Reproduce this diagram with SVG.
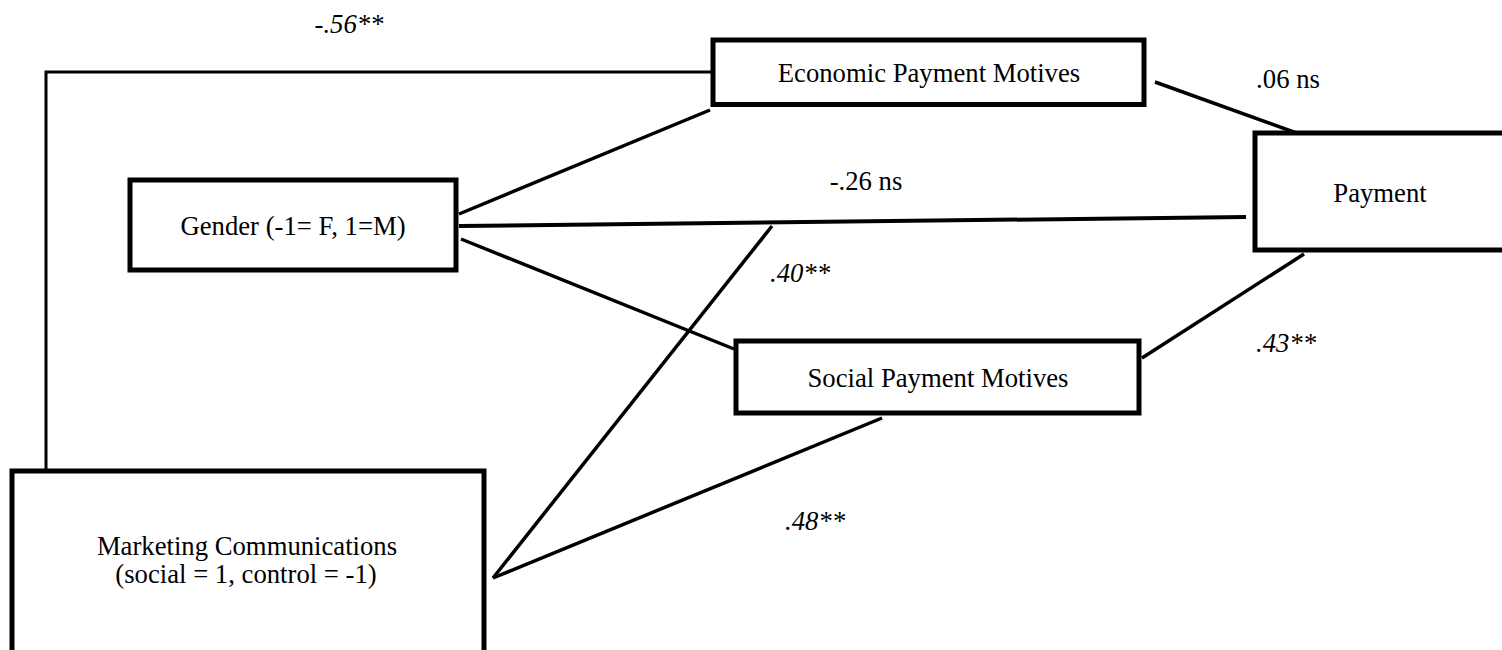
<svg xmlns="http://www.w3.org/2000/svg" width="1502" height="650" viewBox="0 0 1502 650">
<style>
.box{fill:#fff;stroke:#000;stroke-width:5}
.lbl{font-family:'Liberation Serif','Times New Roman','DejaVu Serif',serif;font-size:26.7px;fill:#000;text-anchor:middle}
.it{font-style:italic}
.con line,.con polyline{stroke:#000;stroke-width:3.5;fill:none}
</style>
<rect width="1502" height="650" fill="#fff"/>
<g class="con" id="connectors">
<polyline points="711,72 46,72 46,471" style="stroke-width:3"/>
<line x1="459" y1="214" x2="710" y2="110"/>
<line x1="459" y1="226" x2="1246" y2="217" style="stroke-width:4"/>
<line x1="461" y1="239" x2="734" y2="349"/>
<line x1="1155" y1="82" x2="1302" y2="135"/>
<line x1="1142" y1="358" x2="1304" y2="254"/>
<line x1="493" y1="578" x2="772" y2="226"/>
<line x1="493" y1="578" x2="882" y2="418"/>
</g>
<g id="economic"><rect class="box" x="713" y="40" width="431" height="64.5"/><text class="lbl" x="929" y="82">Economic Payment Motives</text></g>
<g id="gender"><rect class="box" x="130" y="180" width="326" height="90"/><text class="lbl" x="293" y="235">Gender (-1= F, 1=M)</text></g>
<g id="payment"><rect class="box" x="1255" y="133" width="250" height="117"/><text class="lbl" x="1380" y="202">Payment</text></g>
<g id="social"><rect class="box" x="736" y="341" width="403" height="72"/><text class="lbl" x="938" y="387">Social Payment Motives</text></g>
<g id="marketing"><rect class="box" x="12" y="471" width="472" height="200"/><text class="lbl" x="247" y="555">Marketing Communications</text><text class="lbl" x="246" y="583">(social = 1, control = -1)</text></g>
<g id="labels">
<text class="lbl it" x="349" y="33">-.56**</text>
<text class="lbl" x="1288" y="88">.06 ns</text>
<text class="lbl" x="866" y="190">-.26 ns</text>
<text class="lbl it" x="800" y="282">.40**</text>
<text class="lbl it" x="1286" y="352">.43**</text>
<text class="lbl it" x="815" y="530">.48**</text>
</g>
</svg>
